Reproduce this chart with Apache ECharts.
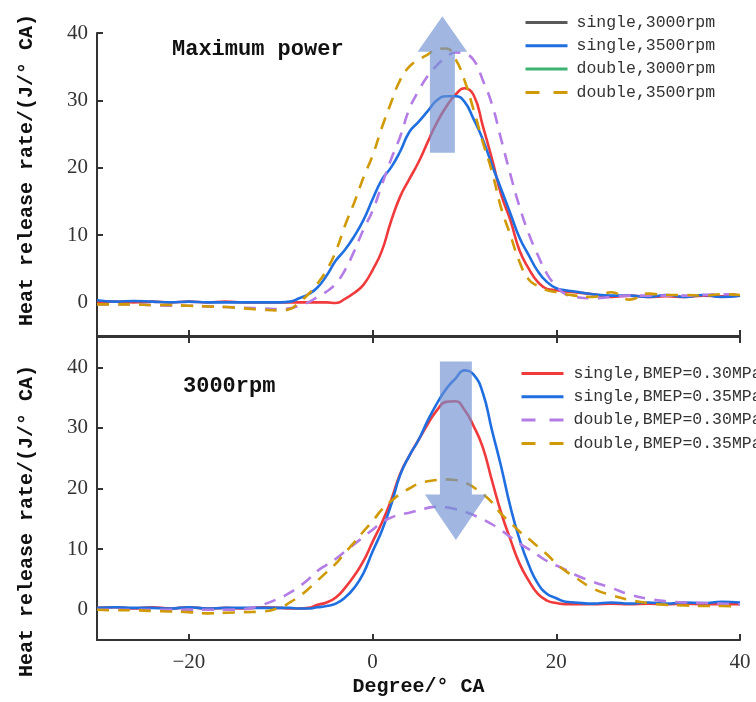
<!DOCTYPE html>
<html><head><meta charset="utf-8">
<script src="https://cdn.jsdelivr.net/npm/echarts@6/dist/echarts.min.js"></script>
<style>html,body{margin:0;padding:0;background:#fff}#c{width:756px;height:702px}</style>
</head><body><div id="c"></div><script>
// ---- data ----
const degree = [-30,-28,-26,-24,-22,-20,-18,-16,-14,-12,-10,-9,-8,-7,-6,-5,-4,-3,-2,-1,0,1,2,3,4,5,6,7,8,9,10,11,12,13,14,15,16,17,18,19,20,21,22,24,26,28,30,32,34,36,38,40];
const xTicks = [-20, 0, 20, 40];
const yTicks = [0, 10, 20, 30, 40];

// top panel (Maximum power)
const topSingle3000 = [0.1,0.1,0.0,0.1,0.0,0.1,0.0,0.1,0.0,0.0,0.0, 0.0,0.0,0.0,0.0,0.0,-0.1,0.5,1.4,2.6,4.8,7.6,12.0,15.7,18.3,20.8,23.8,26.7,29.0,30.8,31.8,30.8,26.2,21.3,16.0,12.2,7.7,5.0,3.0,2.0,1.8,1.6,1.5, 1.2,0.8,1.0,0.8,0.9,0.8,1.0,0.9,1.0];
const topSingle3500 = [0.3,0.1,0.2,0.1,0.0,0.1,0.0,0.0,0.0,0.0,0.0, 0.1,0.6,1.2,2.2,4.0,6.2,7.8,9.8,12.2,15.3,18.2,20.0,22.4,25.3,26.8,28.4,30.0,30.6,30.6,29.8,27.2,24.2,20.4,16.8,13.2,9.6,7.0,4.6,3.0,2.1,1.8,1.6, 1.2,1.0,1.0,0.8,1.1,0.8,1.1,0.8,1.0];
const topDouble3000 = [-0.3,-0.3,-0.3,-0.4,-0.5,-0.5,-0.6,-0.7,-0.8,-0.9,-1.0, -0.9,-0.5,0.0,0.8,1.6,2.8,4.8,7.6,10.8,13.6,17.4,21.2,24.6,28.7,31.4,33.6,35.2,36.4,37.1,36.9,36.0,33.0,29.4,24.2,19.0,14.2,10.2,7.0,4.2,2.4,1.2,0.8, 0.6,0.8,1.0,1.0,1.0,1.0,1.1,1.2,1.2];
const topDouble3500 = [-0.3,-0.3,-0.3,-0.4,-0.4,-0.5,-0.6,-0.7,-0.9,-1.1,-1.2, -1.0,0.0,1.2,2.8,4.8,7.6,11.4,14.8,18.5,21.8,25.9,29.6,33.0,35.0,36.0,36.8,37.6,37.7,36.2,33.0,28.6,23.8,19.4,14.0,10.0,6.0,3.4,2.4,1.8,1.5,1.2,1.0, 0.8,1.5,0.4,1.3,1.1,1.1,1.0,1.2,1.1];

// bottom panel (3000rpm)
const botSingle030 = [0.3,0.4,0.2,0.4,0.2,0.4,0.2,0.3,0.2,0.4,0.3, 0.2,0.2,0.3,0.8,1.2,2.0,3.6,5.6,8.0,11.2,14.3,18.0,22.4,25.4,28.0,30.6,32.9,34.3,34.4,33.0,30.3,26.8,21.3,16.0,11.6,7.6,4.8,2.6,1.5,1.1,0.9,0.9, 0.9,1.0,0.9,1.0,0.9,1.0,0.9,0.9,0.9];
const botSingle035 = [0.3,0.4,0.3,0.3,0.2,0.4,0.2,0.3,0.3,0.3,0.3, 0.3,0.2,0.2,0.4,0.6,1.0,2.0,3.6,6.0,9.6,13.0,17.2,22.2,25.4,28.0,31.2,34.0,36.4,38.1,39.5,38.8,35.8,29.6,23.6,17.0,11.6,7.4,4.3,2.6,1.9,1.3,1.2, 1.0,1.2,1.0,1.2,1.0,1.2,1.1,1.3,1.2];
const botDouble030 = [0.0,0.0,0.0,0.0,0.0,0.0,0.0,0.0,0.1,0.8,2.0, 2.8,3.8,5.0,6.4,7.4,8.4,9.6,10.8,12.0,13.2,14.4,15.2,15.7,16.0,16.4,16.8,17.0,16.9,16.6,16.2,15.6,14.9,14.1,13.1,12.0,10.9,10.0,9.0,8.0,7.3,6.6,5.8, 4.6,3.6,2.5,1.8,1.4,1.2,1.1,1.0,0.9];
const botDouble035 = [0.0,-0.1,-0.1,-0.2,-0.3,-0.4,-0.6,-0.5,-0.4,-0.3,0.4, 1.2,2.2,3.4,4.8,6.2,7.6,9.4,11.1,12.9,14.6,16.5,17.9,19.1,20.0,20.8,21.2,21.4,21.5,21.4,21.0,20.2,19.1,17.7,15.8,14.4,12.9,11.7,10.4,9.1,7.6,6.4,5.4, 3.5,2.4,1.6,1.1,0.8,0.7,0.6,0.6,0.5];

const topNames = ['single,3000rpm','single,3500rpm','double,3000rpm','double,3500rpm'];
const botNames = ['single,BMEP=0.30MPa','single,BMEP=0.35MPa','double,BMEP=0.30MPa','double,BMEP=0.35MPa'];

// arrows (annotation, in data units): [centerX, shaftHalf, headHalf, shaftEndY, headBaseY, tipY]
const arrowTop = [7.6, 1.36, 2.7, 22.2, 37.2, 42.5];
const arrowBot = [9.07, 1.74, 3.37, 40.95, 19.0, 11.5];

// ---- styling ----
const RED='#f03a3c', BLUE='#1f6fe0', PURPLE='#b47de6', ORANGE='#cf9a06';
const AX='#333';
const MONO='"Liberation Mono", "DejaVu Sans Mono", monospace';
const SERIF='"Liberation Serif", "DejaVu Serif", serif';
const pairs = arr => degree.map((d,i)=>[d, arr[i]]);
const fmt = v => v < 0 ? '\u2212' + (-v) : String(v);
const DASH = [12, 9];

function ser(name, arr, color, dashed, panel){
  return {type:'line', name, data: pairs(arr), xAxisIndex: panel===0?0:1, yAxisIndex: panel,
    smooth: true, symbol:'none', showSymbol:false, silent:true,
    lineStyle:{color, width:2.6, type: dashed?DASH:'solid', cap:'butt'}, itemStyle:{color}};
}
const axisLine = {show:true, onZero:false, lineStyle:{color:AX, width:2}};
const tickBase = {show:true, inside:true, length:6, lineStyle:{color:AX, width:2}};
const legendDash = {type:[14,14]};

const chart = echarts.init(document.getElementById('c'));
const option = {
  animation:false,
  backgroundColor:'#fff',
  grid:[
    {left:97, right:16, top:33, height:303, outerBoundsMode:'none'},
    {left:97, right:16, top:337, height:303, outerBoundsMode:'none'}
  ],
  title:[
    {text:'Maximum power', left:172, top:38, padding:0, textStyle:{fontFamily:MONO, fontWeight:'bold', fontSize:22, color:'#111'}},
    {text:'3000rpm', left:183, top:375, padding:0, textStyle:{fontFamily:MONO, fontWeight:'bold', fontSize:22, color:'#111'}}
  ],
  legend:[
    {orient:'vertical', left:519, top:9, itemWidth:42, itemHeight:14, itemGap:6.3, selectedMode:false,
     itemStyle:{opacity:0}, lineStyle:{width:3},
     textStyle:{fontFamily:MONO, fontSize:16.5, color:'#333', lineHeight:16, padding:[0,0,0,4]},
     data:[
       {name:topNames[0], lineStyle:{color:'#5a5a5a'}},
       {name:topNames[1]},
       {name:topNames[2], lineStyle:{color:'#3cb371', type:'solid'}},
       {name:topNames[3], lineStyle:legendDash}
     ]},
    {orient:'vertical', left:515, top:360, itemWidth:42, itemHeight:14, itemGap:6.3, selectedMode:false,
     itemStyle:{opacity:0}, lineStyle:{width:3},
     textStyle:{fontFamily:MONO, fontSize:16.5, color:'#333', lineHeight:16, padding:[0,0,0,5]},
     data:[
       {name:botNames[0]},
       {name:botNames[1]},
       {name:botNames[2], lineStyle:legendDash},
       {name:botNames[3], lineStyle:legendDash}
     ]}
  ],
  xAxis:[
    {gridIndex:0, type:'value', min:-30, max:40, position:'bottom', axisLine,
     axisTick:Object.assign({customValues:xTicks}, tickBase), axisLabel:{show:false}, splitLine:{show:false}},
    {gridIndex:1, type:'value', min:-30, max:40, position:'bottom', axisLine,
     axisTick:Object.assign({customValues:xTicks}, tickBase),
     axisLabel:{show:true, customValues:xTicks, formatter:fmt, margin:12, fontFamily:SERIF, fontSize:21, color:'#333'},
     splitLine:{show:false},
     name:'Degree/° CA', nameLocation:'middle', nameGap:37,
     nameTextStyle:{fontFamily:MONO, fontWeight:'bold', fontSize:20, color:'#111'}},
    {gridIndex:1, type:'value', min:-30, max:40, position:'top', axisLine,
     axisTick:Object.assign({customValues:xTicks}, tickBase), axisLabel:{show:false}, splitLine:{show:false}}
  ],
  yAxis:[
    {gridIndex:0, type:'value', min:-5, max:40, axisLine,
     axisTick:Object.assign({customValues:yTicks}, tickBase),
     axisLabel:{customValues:yTicks, formatter:fmt, margin:9, fontFamily:SERIF, fontSize:21, color:'#333'},
     splitLine:{show:false}},
    {gridIndex:1, type:'value', min:-5, max:45, axisLine,
     axisTick:Object.assign({customValues:yTicks}, tickBase),
     axisLabel:{customValues:yTicks, formatter:fmt, margin:9, fontFamily:SERIF, fontSize:21, color:'#333'},
     splitLine:{show:false}}
  ],
  series:[
    ser(topNames[0], topSingle3000, RED, false, 0),
    ser(topNames[1], topSingle3500, BLUE, false, 0),
    ser(topNames[2], topDouble3000, PURPLE, true, 0),
    ser(topNames[3], topDouble3500, ORANGE, true, 0),
    ser(botNames[0], botSingle030, RED, false, 1),
    ser(botNames[1], botSingle035, BLUE, false, 1),
    ser(botNames[2], botDouble030, PURPLE, true, 1),
    ser(botNames[3], botDouble035, ORANGE, true, 1)
  ]
};
chart.setOption(option);

function arrowPoints(a, gridIndex){
  const [cx, sh, hh, y0, yb, yt] = a;
  const p = (x,y)=>chart.convertToPixel({gridIndex}, [x,y]);
  return [p(cx-sh,y0), p(cx-sh,yb), p(cx-hh,yb), p(cx,yt), p(cx+hh,yb), p(cx+sh,yb), p(cx+sh,y0)];
}
const yName = 'Heat release rate/(J/° CA)';
chart.setOption({graphic:[
  {type:'polygon', z:100, silent:true, shape:{points:arrowPoints(arrowTop,0)}, style:{fill:'rgba(110,145,210,0.65)'}},
  {type:'polygon', z:100, silent:true, shape:{points:arrowPoints(arrowBot,1)}, style:{fill:'rgba(110,145,210,0.65)'}},
  {type:'text', x:27, y:170, rotation:Math.PI/2, z:100, silent:true,
   style:{text:yName, font:'bold 20px ' + MONO, fill:'#111', align:'center', verticalAlign:'middle'}},
  {type:'text', x:27, y:521, rotation:Math.PI/2, z:100, silent:true,
   style:{text:yName, font:'bold 20px ' + MONO, fill:'#111', align:'center', verticalAlign:'middle'}}
]});
</script></body></html>
